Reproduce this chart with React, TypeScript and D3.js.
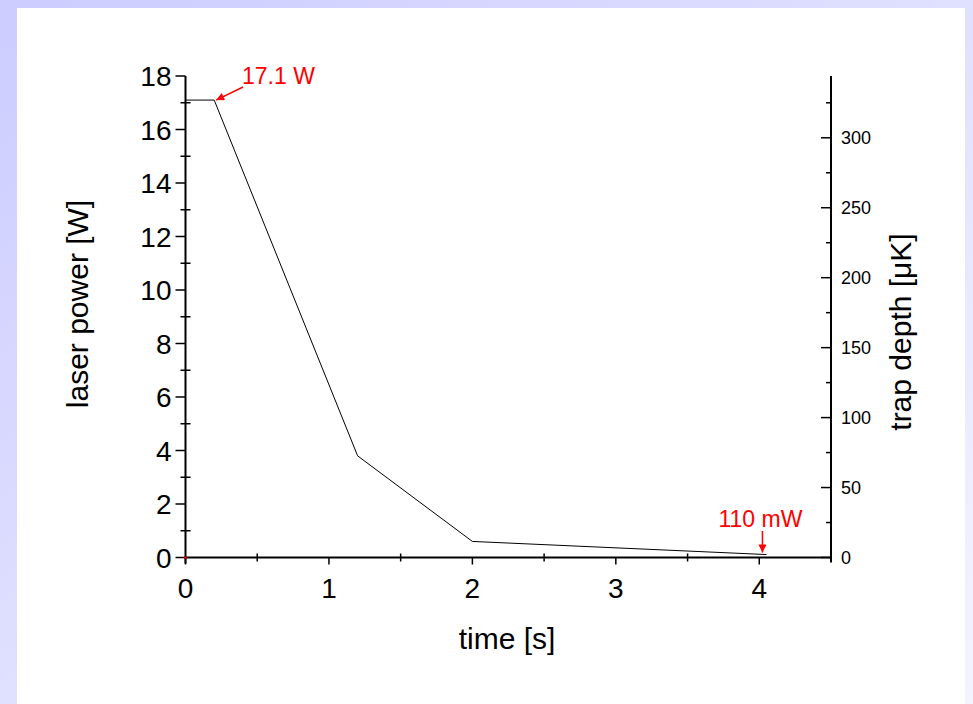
import React from "react";
import * as d3 from "d3";

// ---- data ----
const timeS = [0, 0.2, 1.2, 2.0, 4.05];
const powerW = [17.1, 17.1, 3.8, 0.6, 0.11];
const xMajorTicks = [0, 1, 2, 3, 4];
const xMinorTicks = [0.5, 1.5, 2.5, 3.5];
const yMajorTicks = [0, 2, 4, 6, 8, 10, 12, 14, 16, 18];
const yMinorTicks = [1, 3, 5, 7, 9, 11, 13, 15, 17];
const rightMajorTicks = [0, 50, 100, 150, 200, 250, 300];
const rightMinorTicks = [25, 75, 125, 175, 225, 275, 325];
const microKelvinPerWatt = 19.12;
const annotations = [
  { label: "17.1 W", t: 0.2, p: 17.1 },
  { label: "110 mW", t: 4.05, p: 0.11 },
];

const W = 973;
const H = 704;
const FONT = "Liberation Sans, Arial, sans-serif";

export default function App() {
  const x = d3.scaleLinear().domain([0, 4.5]).range([185.5, 831]);
  const y = d3.scaleLinear().domain([0, 18]).range([557.5, 76]);
  const yR = d3
    .scaleLinear()
    .domain([0, 18 * microKelvinPerWatt])
    .range([557.5, 76]);

  const line = d3
    .line<number>()
    .x((_, i) => x(timeS[i]))
    .y((d) => y(d));
  const pathD = line(powerW) || "";

  const x0 = x(0);
  const x1 = x(4.5);
  const y0 = y(0);
  const y1 = y(18);

  const a1 = annotations[0];
  const a2 = annotations[1];
  const a1x = x(a1.t);
  const a1y = y(a1.p);
  const a2x = x(a2.t) - 4;
  const a2y = y(a2.p);

  return (
    <svg
      width={W}
      height={H}
      style={{ position: "absolute", left: 0, top: 0 }}
      fontFamily={FONT}
    >
      <defs>
        <linearGradient id="bg" x1="0" y1="0" x2="1" y2="1">
          <stop offset="0" stopColor="#ccccff" />
          <stop offset="1" stopColor="#f4f4ff" />
        </linearGradient>
        <marker
          id="arrow"
          viewBox="0 0 10 10"
          refX="10"
          refY="5"
          markerWidth="11"
          markerHeight="8"
          markerUnits="userSpaceOnUse"
          orient="auto"
        >
          <path d="M0,0 L10,5 L0,10 Z" fill="#ff0000" />
        </marker>
      </defs>
      <rect x={0} y={0} width={W} height={H} fill="url(#bg)" />
      <rect x={17} y={8} width={948} height={H - 8} fill="#ffffff" />

      {/* data line */}
      <path d={pathD} fill="none" stroke="#000" strokeWidth={1} />

      {/* axes lines */}
      <g stroke="#000" strokeWidth={2} fill="none">
        <line x1={x0} y1={y1} x2={x0} y2={y0 + 6} />
        <line x1={x0 - 1} y1={y0} x2={x1} y2={y0} />
        <line x1={x1} y1={y1} x2={x1} y2={y0 + 5} />
      </g>

      {/* ticks */}
      <g stroke="#000" strokeWidth={1.5}>
        {yMajorTicks.map((v) => (
          <line key={"ly" + v} x1={x0 - 10} x2={x0} y1={y(v)} y2={y(v)} />
        ))}
        {yMinorTicks.map((v) => (
          <line key={"lym" + v} x1={x0 - 5} x2={x0 + 5} y1={y(v)} y2={y(v)} />
        ))}
        {xMajorTicks.map((v) => (
          <line key={"bx" + v} x1={x(v)} x2={x(v)} y1={y0} y2={y0 + 7} />
        ))}
        {xMinorTicks.map((v) => (
          <line key={"bxm" + v} x1={x(v)} x2={x(v)} y1={y0 - 4} y2={y0 + 4} />
        ))}
        {rightMajorTicks.map((v) => (
          <line key={"r" + v} x1={x1 - 10} x2={x1} y1={yR(v)} y2={yR(v)} />
        ))}
        {rightMinorTicks.map((v) => (
          <line key={"rm" + v} x1={x1 - 5} x2={x1} y1={yR(v)} y2={yR(v)} />
        ))}
      </g>

      {/* tick labels */}
      <g fontSize={28} fill="#000">
        {yMajorTicks.map((v) => (
          <text key={"lyt" + v} x={x0 - 14} y={y(v)} dy="0.36em" textAnchor="end">
            {v}
          </text>
        ))}
        {xMajorTicks.map((v) => (
          <text key={"bxt" + v} x={x(v)} y={y0 + 40} textAnchor="middle">
            {v}
          </text>
        ))}
      </g>
      <g fontSize={18} fill="#000">
        {rightMajorTicks.map((v) => (
          <text key={"rt" + v} x={x1 + 10} y={yR(v)} dy="0.36em" textAnchor="start">
            {v}
          </text>
        ))}
      </g>

      {/* axis titles */}
      <text x={507} y={649} fontSize={30} textAnchor="middle" fill="#000">
        time [s]
      </text>
      <text
        transform={`translate(88,304) rotate(-90)`}
        fontSize={30}
        textAnchor="middle"
        fill="#000"
      >
        laser power [W]
      </text>
      <text
        transform={`translate(911,332) rotate(-90)`}
        fontSize={30}
        textAnchor="middle"
        fill="#000"
      >
        trap depth [μK]
      </text>

      {/* annotations */}
      <g>
        <line
          x1={243}
          y1={87}
          x2={a1x + 2}
          y2={a1y}
          stroke="#ff0000"
          strokeWidth={1.5}
          markerEnd="url(#arrow)"
        />
        <text x={242} y={84} fontSize={23} fill="#ff0000">
          {a1.label}
        </text>
        <line
          x1={a2x}
          y1={531}
          x2={a2x}
          y2={a2y - 2}
          stroke="#ff0000"
          strokeWidth={1.5}
          markerEnd="url(#arrow)"
        />
        <text x={a2x - 2} y={527} fontSize={23} fill="#ff0000" textAnchor="middle">
          {a2.label}
        </text>
      </g>
      <circle cx={x0} cy={y0} r={1.2} fill="#ff0000" />
    </svg>
  );
}
